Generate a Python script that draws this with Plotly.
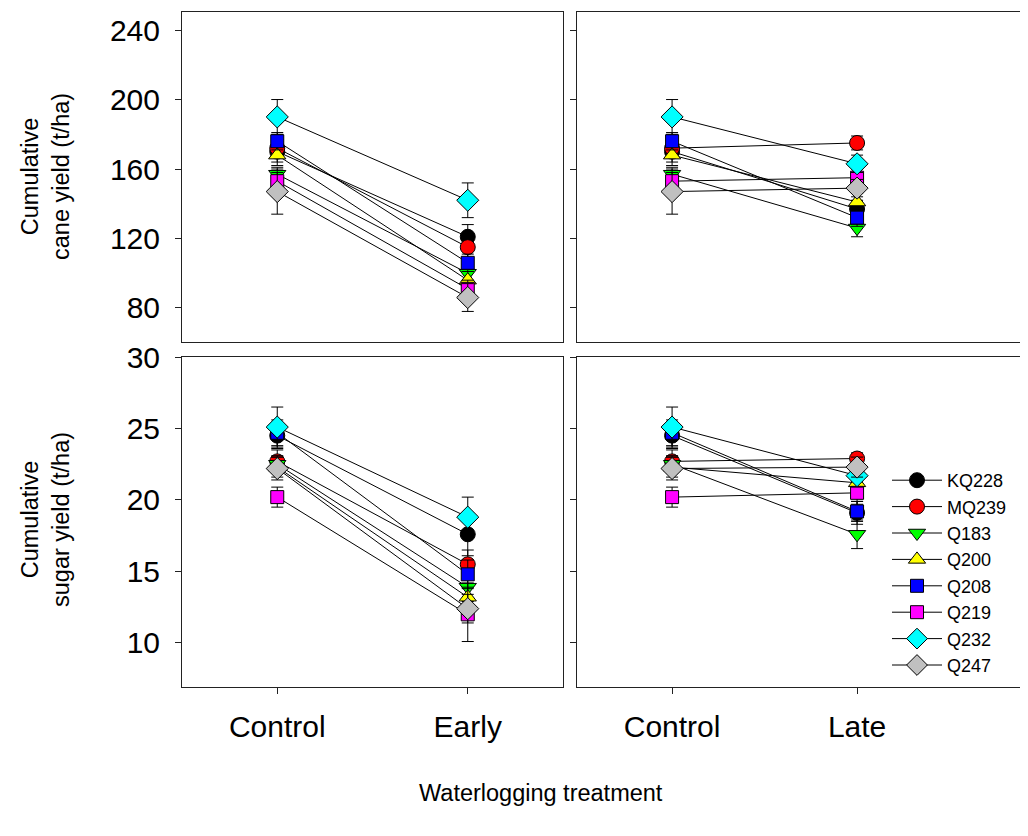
import plotly.graph_objects as go

genotypes = ["KQ228", "MQ239", "Q183", "Q200", "Q208", "Q219", "Q232", "Q247"]
colors = ["#000000", "#FF0000", "#00FF00", "#FFFF00", "#0000FF", "#FF00FF", "#00FFFF", "#C0C0C0"]
symbols = ["circle", "circle", "triangle-down", "triangle-up", "square", "square", "diamond", "diamond"]
sizes = [15, 15, 15, 15, 13, 13, 17, 17]

left_categories = ["Control", "Early"]
right_categories = ["Control", "Late"]

cane_control = [170, 172, 157, 168, 176, 153, 190, 147]
cane_control_err = [6, 5, 4, 6, 5, 5, 10, 13]
cane_early = [121, 115, 100, 96, 106, 91, 142, 86]
cane_early_err = [7, 6, 5, 5, 5, 5, 10, 8]
cane_late = [137, 175, 126, 141, 132, 155, 163, 149]
cane_late_err = [5, 4, 5, 5, 5, 5, 5, 5]

sugar_control = [24.5, 22.7, 22.5, 22.3, 24.7, 20.2, 25.1, 22.2]
sugar_control_err = [0.9, 0.8, 0.6, 0.7, 0.9, 0.7, 1.4, 0.8]
sugar_early = [17.6, 15.5, 13.9, 13.2, 14.8, 12.0, 18.8, 12.4]
sugar_early_err = [1.5, 1.0, 1.0, 1.0, 1.0, 1.9, 1.4, 1.0]
sugar_late = [19.1, 22.9, 17.6, 21.2, 19.2, 20.5, 21.7, 22.3]
sugar_late_err = [0.8, 0.4, 1.0, 0.6, 0.7, 0.8, 0.8, 0.7]

cane_ticks = [80, 120, 160, 200, 240]
sugar_ticks = [10, 15, 20, 25, 30]

# page body has an 8px margin; the figure fills the rest of the 1028x836 window
OFF = 8
W, H = 1028 - OFF, 836 - OFF
FONT = "Liberation Sans, Arial, sans-serif"
TICK_SIZE = 30
TITLE_SIZE = 23.5

fig = go.Figure()

panels = [
    ("x", "y", left_categories, cane_control, cane_control_err, cane_early, cane_early_err, False),
    ("x2", "y2", right_categories, cane_control, cane_control_err, cane_late, cane_late_err, False),
    ("x3", "y3", left_categories, sugar_control, sugar_control_err, sugar_early, sugar_early_err, False),
    ("x4", "y4", right_categories, sugar_control, sugar_control_err, sugar_late, sugar_late_err, True),
]

for xa, ya, cats, ctrl, ctrl_e, trt, trt_e, showleg in panels:
    for i, g in enumerate(genotypes):
        fig.add_trace(go.Scatter(
            x=cats, y=[ctrl[i], trt[i]],
            error_y=dict(type="data", array=[ctrl_e[i], trt_e[i]], color="black",
                         thickness=1, width=6),
            mode="lines+markers",
            line=dict(color="black", width=1),
            marker=dict(symbol=symbols[i], color=colors[i], size=sizes[i],
                        line=dict(color="black", width=1)),
            name=g, legendgroup=g, showlegend=showleg,
            xaxis=xa, yaxis=ya,
        ))


def px_x(p):
    return (p - OFF) / W


def px_y(p):
    return 1 - (p - OFF) / H


L0, L1 = px_x(182), px_x(563)
R0, R1 = px_x(577), 1.0
T0, T1 = px_y(342), px_y(12)
B0, B1 = px_y(687), px_y(357)

LINE = "#222222"
axis_common = dict(showline=True, linecolor=LINE, linewidth=1, showgrid=False,
                   zeroline=False, ticks="outside", ticklen=6, tickcolor=LINE,
                   automargin=False,
                   tickfont=dict(family=FONT, size=TICK_SIZE, color="black"))
top_x = dict(showline=True, mirror=True, linecolor=LINE, showgrid=False, zeroline=False,
             showticklabels=False, ticks="", automargin=False)

fig.update_layout(
    width=W, height=H,
    margin=dict(l=0, r=0, t=0, b=0, pad=0, autoexpand=False),
    paper_bgcolor="white", plot_bgcolor="white",
    font=dict(family=FONT, color="black"),
    showlegend=True,
    legend=dict(x=px_x(887), y=px_y(462), xanchor="left", yanchor="top",
                font=dict(family=FONT, size=18), bgcolor="rgba(0,0,0,0)",
                tracegroupgap=0, itemsizing="trace", itemwidth=50),
    xaxis=dict(domain=[L0, L1], anchor="y", type="category", categoryarray=left_categories,
               range=[-0.5, 1.5], **top_x),
    xaxis2=dict(domain=[R0, R1], anchor="y2", type="category", categoryarray=right_categories,
                range=[-0.514, 1.924], **top_x),
    xaxis3=dict(domain=[L0, L1], anchor="y3", type="category", categoryarray=left_categories,
                range=[-0.5, 1.5], mirror=True, ticklabelstandoff=7, **axis_common),
    xaxis4=dict(domain=[R0, R1], anchor="y4", type="category", categoryarray=right_categories,
                range=[-0.514, 1.924], mirror=True, ticklabelstandoff=7, **axis_common),
    yaxis=dict(domain=[T0, T1], anchor="x", range=[60.4, 250.4], tickvals=cane_ticks,
               mirror=True, ticklabelstandoff=9, **axis_common),
    yaxis2=dict(domain=[T0, T1], anchor="x2", range=[60.4, 250.4], tickvals=cane_ticks,
                showticklabels=False, mirror=False, **axis_common),
    yaxis3=dict(domain=[B0, B1], anchor="x3", range=[6.92, 30.0], tickvals=sugar_ticks,
                mirror=True, ticklabelstandoff=9, **axis_common),
    yaxis4=dict(domain=[B0, B1], anchor="x4", range=[6.92, 30.0], tickvals=sugar_ticks,
                showticklabels=False, mirror=False, **axis_common),
)

title_font = dict(family=FONT, size=TITLE_SIZE, color="black")
fig.add_annotation(text="Cumulative<br>cane yield (t/ha)", x=px_x(45), y=px_y(177),
                   xref="paper", yref="paper", showarrow=False, textangle=-90,
                   xanchor="center", yanchor="middle", font=title_font)
fig.add_annotation(text="Cumulative<br>sugar yield (t/ha)", x=px_x(45), y=px_y(520),
                   xref="paper", yref="paper", showarrow=False, textangle=-90,
                   xanchor="center", yanchor="middle", font=title_font)
fig.add_annotation(text="Waterlogging treatment", x=px_x(541), y=px_y(793),
                   xref="paper", yref="paper", showarrow=False,
                   xanchor="center", yanchor="middle", font=title_font)

fig.write_html("out.html")
